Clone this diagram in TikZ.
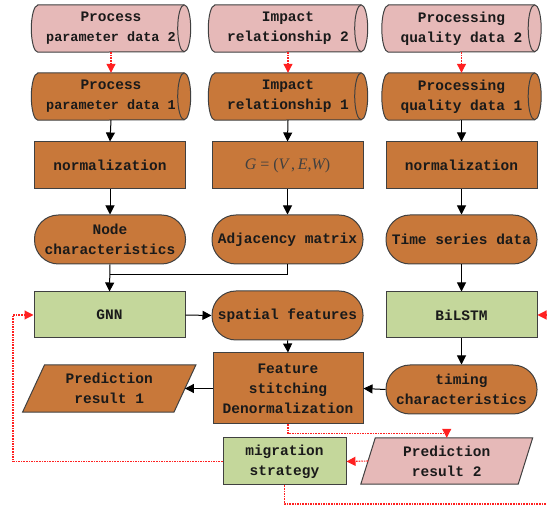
\documentclass[tikz,border=0pt]{standalone}
\usepackage{fontspec}
\setmonofont{Liberation Mono}
\setmainfont{Liberation Serif}
\usetikzlibrary{arrows.meta,backgrounds}
\definecolor{orangeF}{HTML}{C8783A}
\definecolor{pinkF}{HTML}{E6B9B8}
\definecolor{greenF}{HTML}{C4D79B}
\definecolor{edgeC}{HTML}{404040}
\definecolor{txtC}{HTML}{1A1A1A}
\definecolor{redC}{HTML}{FF2020}
\tikzset{
 lbl/.style={font=\ttfamily\bfseries\fontsize{14.5}{20}\selectfont, text=txtC, align=center, inner sep=0pt},
 cylbox/.style={lbl, minimum width=146pt, minimum height=47pt},
 procbox/.style={lbl, draw=edgeC, fill=orangeF, minimum width=151pt, minimum height=47pt, line width=1pt},
 greenbox/.style={lbl, draw=edgeC, fill=greenF, minimum width=151pt, minimum height=46pt, line width=1pt},
 termbox/.style={lbl, draw=edgeC, fill=orangeF, minimum width=151pt, minimum height=49pt, rounded corners=24pt, line width=1pt},
 parabox/.style={lbl, minimum width=151pt, minimum height=47pt},
 arr/.style={-{Triangle[length=9pt,width=9pt]}, line width=1pt, black},
 redarr/.style={redC, line width=1.1pt, dash pattern=on 1.6pt off 1pt, -{Triangle[length=9pt,width=9pt]}},
 shapeline/.style={draw=edgeC, line width=1pt},
}
\newcommand{\cylshape}[2]{%
 \draw[shapeline, fill=#2] (#1.north west) -- (#1.north east)
   arc[start angle=90,end angle=-90,x radius=6.5pt,y radius=23.5pt] -- (#1.south west)
   arc[start angle=270,end angle=90,x radius=6.5pt,y radius=23.5pt] -- cycle;
 \draw[shapeline] (#1.north east) arc[start angle=90,end angle=270,x radius=6.5pt,y radius=23.5pt];
}
\newcommand{\parashape}[3]{%
 \draw[shapeline, fill=#2] ([xshift=#3]#1.north west) -- ([xshift=#3]#1.north east)
   -- ([xshift=-#3]#1.south east) -- ([xshift=-#3]#1.south west) -- cycle;
}
\begin{document}
\begin{tikzpicture}[x=1pt,y=-1pt]
\useasboundingbox (0,0) rectangle (547,510);
% cylinders row A
\node[cylbox] (a1) at (111,28.5) {Process\\{\fontsize{13.5}{20}\selectfont parameter data 2}};
\node[cylbox] (a2) at (288,28.5) {Impact\\relationship 2};
\node[cylbox] (a3) at (461.5,28.5) {Processing\\quality data 2};
% cylinders row B
\node[cylbox] (b1) at (111,96.5) {Process\\{\fontsize{13.5}{20}\selectfont parameter data 1}};
\node[cylbox] (b2) at (288,96.5) {Impact\\relationship 1};
\node[cylbox] (b3) at (461.5,96.5) {Processing\\quality data 1};
\begin{pgfonlayer}{background}
\cylshape{a1}{pinkF}\cylshape{a2}{pinkF}\cylshape{a3}{pinkF}
\cylshape{b1}{orangeF}\cylshape{b2}{orangeF}\cylshape{b3}{orangeF}
\end{pgfonlayer}
% row C
\node[procbox] (c1) at (110,165.5) {normalization};
\node[procbox] (c2) at (287.5,165.5) {\rmfamily\mdseries\fontsize{16}{20}\selectfont\color{black!75}\itshape G\upshape\ = (\itshape V\upshape\,,\,\itshape E\upshape,\itshape W\upshape)};
\node[procbox] (c3) at (461.5,165.5) {normalization};
% row D
\node[termbox] (d1) at (110,239.5) {Node\\characteristics};
\node[termbox] (d2) at (287.5,239.5) {Adjacency matrix};
\node[termbox] (d3) at (461.5,239.5) {Time series data};
% row E
\node[greenbox] (gnn) at (109.5,315) {GNN};
\node[termbox] (sf) at (287.5,315.5) {spatial features};
\node[greenbox] (bil) at (461.5,315) {BiLSTM};
% row F
\node[procbox, minimum width=150pt, minimum height=71pt] (fs) at (288,388.5) {Feature\\stitching\\Denormalization};
\node[parabox] (p1) at (109.25,388.5) {Prediction\\result 1};
\node[termbox] (tc) at (461.5,389.5) {timing\\characteristics};
% row G
\node[greenbox, minimum width=123pt, minimum height=47pt] (mig) at (284.5,461.5) {migration\\strategy};
\node[parabox, minimum width=157pt, minimum height=46pt] (p2) at (446.75,461) {Prediction\\result 2};
\begin{pgfonlayer}{background}
\parashape{p1}{orangeF}{11pt}
\parashape{p2}{pinkF}{7.25pt}
\end{pgfonlayer}
% connectors
\foreach \i in {1,2,3}{
  \draw[redarr] (a\i.south) -- (b\i.north);
  \draw[arr] (b\i.south) -- (c\i.north);
  \draw[arr] (c\i.south) -- (d\i.north);
}
\coordinate (j) at (110,275);
\draw[arr] (d1.south) -- (gnn.north);
\draw[line width=1pt] (d2.south) |- (j);
\draw[arr] (gnn.east) -- (sf.west);
\draw[arr] (sf.south) -- (fs.north);
\draw[arr] (d3.south) -- (bil.north);
\draw[arr] (bil.south) -- (tc.north);
\draw[arr] (tc.west) -- (fs.east);
\draw[arr] (fs.west) -- (p1.east);
\draw[redarr] (fs.south) -- ++(0,9) -| (p2.north);
\draw[redarr] (p2.west) -- (mig.east);
\coordinate (lc) at (13,461.5);
\draw[redarr] (mig.west) -- (lc) |- (gnn.west);
\coordinate (rc) at (549,504);
\draw[redarr] (mig.south) |- (rc) |- (bil.east);
\end{tikzpicture}
\end{document}
